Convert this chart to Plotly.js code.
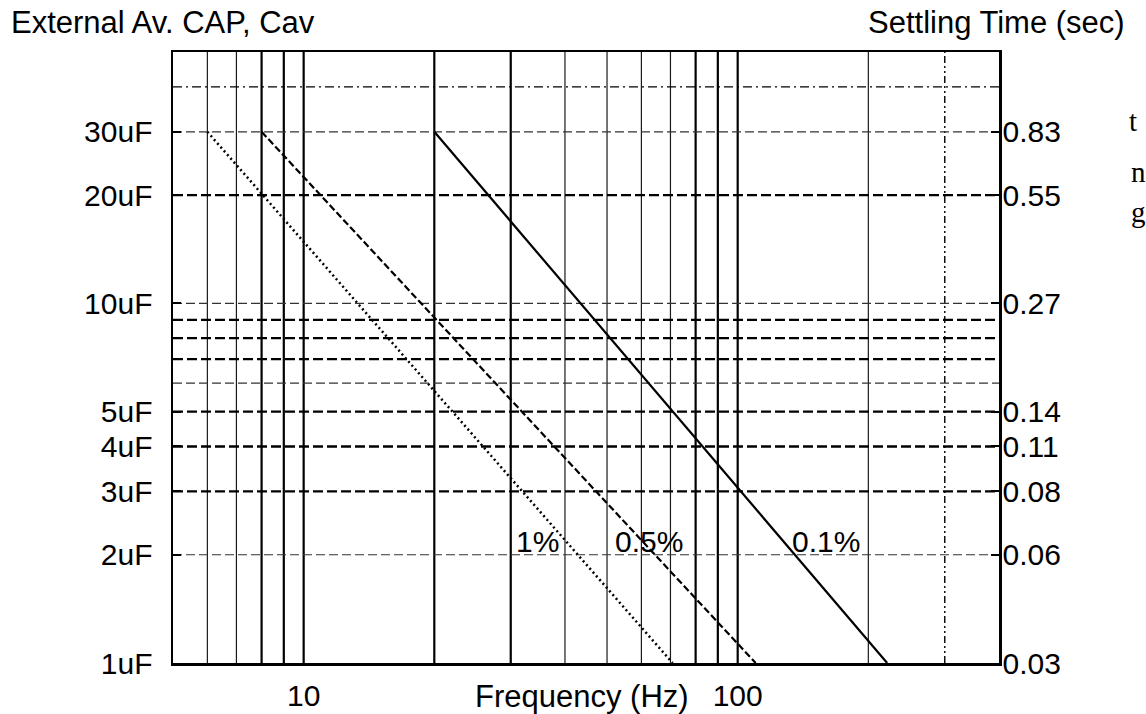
<!DOCTYPE html>
<html><head><meta charset="utf-8">
<script src="https://cdn.plot.ly/plotly-3.0.1.min.js"></script>
<style>html,body{margin:0;padding:0;background:#fff}#chart{width:1146px;height:714px}</style>
</head><body><div id="chart"></div>
<script>
// ---- Axis ticks ----
const freqTickVals = [10, 100];
const freqTickText = ['10', '100'];
const capTickVals = [1, 2, 3, 4, 5, 10, 20, 30];
const capTickText = ['1uF', '2uF', '3uF', '4uF', '5uF', '10uF', '20uF', '30uF'];
const settlingTickText = ['0.03', '0.06', '0.08', '0.11', '0.14', '0.27', '0.55', '0.83'];

const freqRange = [5, 400];
const capRange = [1, 50];

// ---- Grid lines ----
const freqGridBold = [8, 9, 10, 20, 30, 80, 90, 100];
const freqGridThin = [6, 7, 40, 50, 60, 70, 200];
const freqGridDashDot = [300];
const capGridBold = [3, 4, 5, 7, 8, 9, 20];
const capGridThin = [2, 6, 10, 30];
const capGridDashDot = [40];

// ---- Curves (Cav vs frequency) ----
const freq1pct = [6, 70.8];
const cap1pct = [30, 1];
const freq05pct = [8, 110];
const cap05pct = [30, 1];
const freq01pct = [20, 221];
const cap01pct = [30, 1];

const curveLabels = ['1%', '0.5%', '0.1%'];
const curveLabelFreq = [34.6, 62.4, 160];
const curveLabelCap = [2.18, 2.18, 2.18];

// ---- Layout geometry ----
const W = 1146, H = 714;
const M = {l: 173, r: 147, t: 52, b: 51};
const plotW = W - M.l - M.r, plotH = H - M.t - M.b;
const px2paperX = px => (px - M.l) / plotW;
const py2paperY = py => (H - M.b - py) / plotH;

const FONT = 'Liberation Sans, Arial, sans-serif';
const FS = 30;
const FT = 31;

function vLines(vals) {
  const x = [], y = [];
  vals.forEach(v => { x.push(v, v, null); y.push(capRange[0], capRange[1], null); });
  return {x, y};
}
function hLines(vals) {
  const x = [], y = [];
  vals.forEach(v => { x.push(freqRange[0], freqRange[1], null); y.push(v, v, null); });
  return {x, y};
}
function gridTrace(d, width, dash, color) {
  return {x: d.x, y: d.y, type: 'scatter', mode: 'lines', hoverinfo: 'skip', showlegend: false,
    line: {color: color || '#000', width: width, dash: dash || 'solid'}};
}

const traces = [
  gridTrace(vLines(freqGridThin), 1.2, 'solid', '#1a1a1a'),
  gridTrace(vLines(freqGridBold), 2.2, 'solid', '#000'),
  gridTrace(vLines(freqGridDashDot), 1.4, '7px,3px,2px,3px,2px,3px', '#000'),
  gridTrace(hLines(capGridThin), 1.2, '9px,4px', '#333'),
  gridTrace(hLines(capGridBold), 2.3, '10px,4px', '#000'),
  gridTrace(hLines(capGridDashDot), 1.2, '9px,4px,2px,4px', '#000'),
  {x: freq1pct, y: cap1pct, type: 'scatter', mode: 'lines', showlegend: false, name: '1%',
    line: {color: '#000', width: 2.5, dash: '2px,3px'}},
  {x: freq05pct, y: cap05pct, type: 'scatter', mode: 'lines', showlegend: false, name: '0.5%',
    line: {color: '#000', width: 2.2, dash: '7px,3px'}},
  {x: freq01pct, y: cap01pct, type: 'scatter', mode: 'lines', showlegend: false, name: '0.1%',
    line: {color: '#000', width: 2.2}},
  // helper trace so the right-hand settling-time axis is drawn
  {x: freqRange, y: capRange, yaxis: 'y2', type: 'scatter', mode: 'lines', hoverinfo: 'skip',
    showlegend: false, line: {width: 0, color: 'rgba(0,0,0,0)'}}
];

const annotations = [];
curveLabels.forEach((t, i) => {
  annotations.push({x: Math.log10(curveLabelFreq[i]), y: Math.log10(curveLabelCap[i]), xref: 'x', yref: 'y',
    text: t, showarrow: false, xanchor: 'center', yanchor: 'middle',
    font: {family: FONT, size: FS, color: '#000'}});
});
annotations.push(
  {xref: 'paper', yref: 'paper', x: px2paperX(9), y: py2paperY(23), xanchor: 'left', yanchor: 'middle',
    text: 'External Av. CAP, Cav', showarrow: false, font: {family: FONT, size: FT, color: '#000'}},
  {xref: 'paper', yref: 'paper', x: px2paperX(1127), y: py2paperY(23), xanchor: 'right', yanchor: 'middle',
    text: 'Settling Time (sec)', showarrow: false, font: {family: FONT, size: FT, color: '#000'}},
  {xref: 'paper', yref: 'paper', x: px2paperX(582), y: py2paperY(696), xanchor: 'center', yanchor: 'middle',
    text: 'Frequency (Hz)', showarrow: false, font: {family: FONT, size: FT, color: '#000'}},
  {xref: 'paper', yref: 'paper', x: px2paperX(1133), y: py2paperY(121), xanchor: 'center', yanchor: 'middle',
    text: 't', showarrow: false, font: {family: 'Liberation Serif, serif', size: 29, color: '#000'}},
  {xref: 'paper', yref: 'paper', x: px2paperX(1138), y: py2paperY(172), xanchor: 'center', yanchor: 'middle',
    text: 'n', showarrow: false, font: {family: 'Liberation Serif, serif', size: 29, color: '#000'}},
  {xref: 'paper', yref: 'paper', x: px2paperX(1138), y: py2paperY(212), xanchor: 'center', yanchor: 'middle',
    text: 'g', showarrow: false, font: {family: 'Liberation Serif, serif', size: 29, color: '#000'}}
);

const layout = {
  width: W, height: H,
  margin: M,
  paper_bgcolor: '#fff', plot_bgcolor: '#fff',
  showlegend: false,
  xaxis: {
    type: 'log', range: [Math.log10(freqRange[0]), Math.log10(freqRange[1])],
    tickmode: 'array', tickvals: freqTickVals, ticktext: freqTickText,
    showgrid: false, zeroline: false, ticks: '', ticklabelstandoff: 4,
    showline: true, mirror: true, linecolor: '#000', linewidth: 2.5,
    tickfont: {family: FONT, size: FS, color: '#000'}
  },
  yaxis: {
    type: 'log', range: [Math.log10(capRange[0]), Math.log10(capRange[1])],
    tickmode: 'array', tickvals: capTickVals, ticktext: capTickText,
    showgrid: false, zeroline: false, ticks: 'inside', ticklen: 8, tickwidth: 2, tickcolor: '#000',
    ticklabelstandoff: 12,
    showline: true, mirror: true, linecolor: '#000', linewidth: 2.5,
    tickfont: {family: FONT, size: FS, color: '#000'}
  },
  yaxis2: {
    type: 'log', range: [Math.log10(capRange[0]), Math.log10(capRange[1])],
    overlaying: 'y', side: 'right',
    tickmode: 'array', tickvals: capTickVals, ticktext: settlingTickText,
    showgrid: false, zeroline: false, ticks: 'inside', ticklen: 8, tickwidth: 2, tickcolor: '#000',
    ticklabelstandoff: -5,
    showline: true, linecolor: '#000', linewidth: 2.5,
    tickfont: {family: FONT, size: FS, color: '#000'}
  },
  annotations: annotations
};

Plotly.newPlot('chart', traces, layout, {displayModeBar: false, staticPlot: true});
</script>
</body></html>
